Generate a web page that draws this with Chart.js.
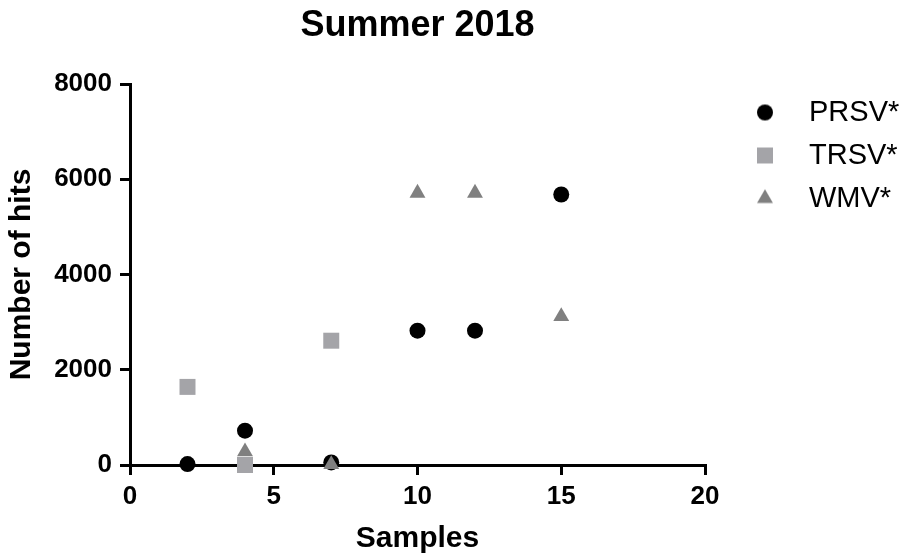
<!DOCTYPE html>
<html>

<head>
  <title>Summer 2018</title>
  <meta charset="UTF-8">
  <script src="https://cdn.jsdelivr.net/npm/chart.js@4.4.0/dist/chart.umd.min.js"></script>
  <style>
    body { margin: 0; background: #fff; }
  </style>
</head>

<body>
  <canvas id="myChart" width="907" height="558"></canvas>
  <script>
    // values
    var seriesNames = ["PRSV*", "TRSV*", "WMV*"];
    var prsvX = [2, 4, 7, 10, 12, 15];
    var prsvY = [20, 720, 55, 2820, 2820, 5680];
    var trsvX = [2, 4, 7];
    var trsvY = [1640, 0, 2610];
    var wmvX = [4, 7, 10, 12, 15];
    var wmvY = [280, 10, 5710, 5710, 3120];
    var xTicks = [0, 5, 10, 15, 20];
    var yTicks = [0, 2000, 4000, 6000, 8000];

    function toPoints(xs, ys) {
      var pts = [];
      for (let i = 0; i < xs.length; i++) {
        pts.push({ x: xs[i], y: ys[i] });
      }
      return pts;
    }

    // small canvases for the legend markers, so the gap to the text can be set
    function makeIcon(style, radius, color) {
      var c = document.createElement("canvas");
      c.width = 26;
      c.height = 26;
      var cx = c.getContext("2d");
      cx.fillStyle = color;
      Chart.helpers.drawPoint(cx, { pointStyle: style, radius: radius, borderWidth: 0 }, 13, 13);
      return c;
    }

    Chart.defaults.font.family = "'Liberation Sans', Arial, sans-serif";
    Chart.defaults.color = "#000";

    var colors = ["#000000", "#a4a4a8", "#808080"];
    var icons = [
      makeIcon("circle", 8, colors[0]),
      makeIcon("rect", 11.3, colors[1]),
      makeIcon("triangle", 9.2, colors[2])
    ];

    var axisGrid = {
      display: true,
      drawOnChartArea: false,
      drawTicks: true,
      tickLength: 10,
      color: "#000",
      lineWidth: 3
    };

    function plainLabel(v) { return String(v); }

    var ctx = document.getElementById("myChart").getContext("2d");
    var chart = new Chart(ctx, {
      type: "scatter",
      data: {
        datasets: [{
          label: seriesNames[0],
          data: toPoints(prsvX, prsvY),
          pointStyle: "circle",
          pointRadius: 8,
          pointHoverRadius: 8,
          backgroundColor: colors[0],
          borderWidth: 0,
          order: 3,
          clip: false
        }, {
          label: seriesNames[1],
          data: toPoints(trsvX, trsvY),
          pointStyle: "rect",
          pointRadius: 11.3,
          pointHoverRadius: 11.3,
          backgroundColor: colors[1],
          borderWidth: 0,
          order: 2,
          clip: false
        }, {
          label: seriesNames[2],
          data: toPoints(wmvX, wmvY),
          pointStyle: "triangle",
          pointRadius: 9.2,
          pointHoverRadius: 9.2,
          backgroundColor: colors[2],
          borderWidth: 0,
          order: 1,
          clip: false
        }]
      },

      options: {
        responsive: false,
        animation: false,
        devicePixelRatio: 1,
        layout: { padding: 0 },
        scales: {
          x: {
            type: "linear",
            position: "bottom",
            min: 0,
            max: 20,
            afterBuildTicks: function(s) { s.ticks = xTicks.map(v => ({ value: v })); },
            ticks: { font: { size: 26, weight: "bold" }, color: "#000", padding: 6, callback: plainLabel },
            grid: axisGrid,
            border: { display: true, color: "#000", width: 3 },
            title: {
              display: true,
              text: "Samples",
              font: { size: 30, weight: "bold" },
              color: "#000",
              padding: { top: 0, bottom: 1 }
            },
            afterFit: function(s) { s.height = 93; }
          },
          y: {
            type: "linear",
            position: "left",
            min: 0,
            max: 8000,
            afterBuildTicks: function(s) { s.ticks = yTicks.map(v => ({ value: v })); },
            ticks: { font: { size: 26, weight: "bold" }, color: "#000", padding: 8, callback: plainLabel },
            grid: axisGrid,
            border: { display: true, color: "#000", width: 3 },
            title: {
              display: true,
              text: "Number of hits",
              font: { size: 30, weight: "bold" },
              color: "#000",
              padding: { top: 4, bottom: 0 }
            },
            afterFit: function(s) { s.width = 130; }
          },
          // top axis only carries the chart title, centred on the plot area
          x2: {
            type: "linear",
            axis: "x",
            position: "top",
            grid: { display: false },
            ticks: { display: false },
            border: { display: false },
            title: {
              display: true,
              text: "Summer 2018",
              font: { size: 36, weight: "bold" },
              color: "#000",
              padding: { top: 4, bottom: 0 }
            },
            afterFit: function(s) { s.height = 84; }
          },
          // empty spacer between plot and legend
          y2: {
            type: "linear",
            axis: "y",
            position: "right",
            grid: { display: false },
            ticks: { display: false },
            border: { display: false },
            afterFit: function(s) { s.width = 16.5; }
          }
        },
        plugins: {
          tooltip: { enabled: false },
          legend: {
            position: "right",
            align: "start",
            fullSize: false,
            maxWidth: 185.5,
            labels: {
              usePointStyle: true,
              pointStyleWidth: 59,
              padding: 14,
              color: "#000",
              font: { size: 29 },
              sort: function(a, b) { return a.datasetIndex - b.datasetIndex; },
              generateLabels: function(chart) {
                var items = Chart.defaults.plugins.legend.labels.generateLabels(chart);
                items.forEach(function(it) { it.pointStyle = icons[it.datasetIndex]; });
                return items;
              }
            }
          }
        }
      }
    });
  </script>
</body>

</html>
